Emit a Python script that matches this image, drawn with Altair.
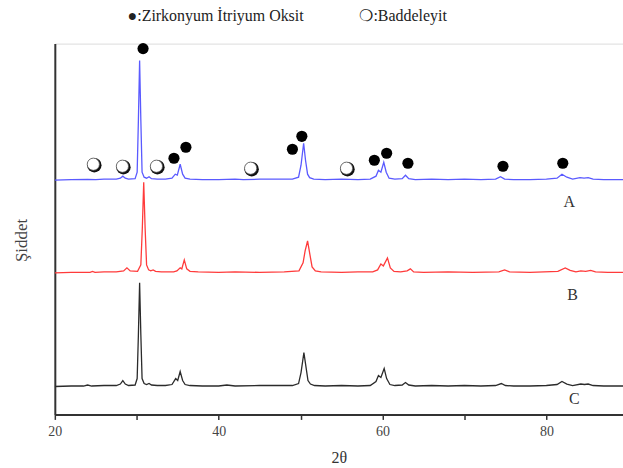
import altair as alt
import pandas as pd

# ---- pattern A (blue): 2theta and intensity above its own baseline ----
a_x = [20, 22, 24, 25, 26, 27.5, 28.0, 28.3, 28.6, 29.0, 29.8, 30.05, 30.2, 30.35, 30.5, 30.65, 30.9,
       31.2, 31.5, 31.8, 32.5, 33.5, 34.3, 34.7, 34.95, 35.3, 35.6, 35.9, 36.5, 38, 40, 42, 43, 45, 47,
       49, 49.75, 50.05, 50.37, 50.6, 50.85, 51.1, 51.6, 53, 55, 57, 58.5, 59.2, 59.5, 59.8, 60.15, 60.45,
       60.8, 61.5, 62.4, 62.8, 63.2, 64, 66, 68, 70, 72, 73.8, 74.4, 74.9, 76, 78, 80, 81.3, 81.9, 82.5,
       83.2, 84.1, 84.6, 85.1, 85.7, 87, 89.5]
a_y = [0, 0.5, 0.8, 0.5, 1, 1, 2, 4, 2, 1, 1.5, 8, 60, 120, 60, 8, 3,
       2, 3.5, 1.5, 1, 1, 2, 6, 5, 16, 6, 2, 1, 0.5, 0.5, 1, 0.5, 1, 1,
       1, 3, 15, 37, 20, 6, 2.5, 1, 0.5, 1, 0.5, 1, 4, 10, 8, 18, 8,
       2, 1, 1.5, 5, 1.5, 0.5, 1, 0.5, 1, 0.5, 1, 3.5, 1, 0.5, 0.5, 1, 2, 6, 3,
       1, 2.5, 2, 2.5, 1, 0.5, 0.5]

# ---- pattern B (red) ----
b_x = [20, 22, 24.3, 24.6, 24.9, 26, 27.5, 28.4, 28.8, 29.2, 30.1, 30.5, 30.68, 30.85, 31.02, 31.2, 31.45,
       31.7, 32.0, 32.3, 33, 34.5, 34.9, 35.3, 35.5, 35.8, 36.1, 36.5, 37.5, 40, 42, 45, 48, 49.8,
       50.3, 50.55, 50.85, 51.1, 51.4, 51.8, 52.5, 55, 57, 58.8, 59.4, 59.8, 60.1, 60.6, 60.95, 61.4,
       62.2, 63.0, 63.4, 63.8, 65, 68, 71, 74.2, 74.9, 75.5, 78, 81.4, 82.3, 82.9, 83.6, 84.2, 84.8,
       85.4, 86.0, 87.5, 89.5]
b_y = [0, 0.5, 0.5, 1.5, 0.5, 1, 1, 2, 5, 2, 1.5, 8, 45, 91, 45, 8, 3,
       2, 3, 1.5, 1, 1, 2, 5, 4, 13, 4, 1.5, 1, 0.5, 1, 0.5, 1, 2,
       10, 22, 32, 20, 6, 2, 1, 0.5, 1, 1, 3, 9, 7, 15, 5, 1.5,
       1, 2, 4, 1, 0.5, 1, 0.5, 1, 3, 1, 0.5, 1.5, 5, 2.5, 1, 2, 1.5,
       2.5, 1, 0.5, 0.5]

# ---- pattern C (black) ----
c_x = [20, 22, 23.5, 24, 24.5, 26, 27.5, 28.0, 28.3, 28.6, 29.0, 29.8, 30.05, 30.2, 30.35, 30.5, 30.65,
       30.9, 31.2, 31.5, 31.8, 32.5, 33.5, 34.3, 34.75, 35.0, 35.3, 35.6, 35.9, 36.5, 38, 40, 41, 42,
       45, 47, 49, 49.75, 50.05, 50.4, 50.65, 50.9, 51.2, 51.7, 53, 55, 57, 58.5, 59.2, 59.5, 59.8,
       60.2, 60.5, 60.9, 61.5, 62.4, 62.8, 63.2, 64, 66, 68, 70, 72, 73.8, 74.5, 75.0, 76, 78, 80,
       81.3, 81.9, 82.5, 83.2, 84.2, 84.65, 85.1, 85.7, 87, 89.5]
c_y = [0, 0.5, 0.5, 1.5, 0.5, 1, 1, 2.5, 6, 2.5, 1, 1.5, 8, 52, 104, 52, 8,
       3, 2, 3, 1.5, 1, 1, 2, 8, 6, 15, 6, 2, 1, 0.5, 0.5, 1.5, 0.5,
       1, 1, 1, 3, 14, 34, 20, 6, 2.5, 1, 0.5, 1, 0.5, 1, 5, 11, 9, 18, 8,
       2, 1, 1.5, 4, 1.5, 0.5, 1, 0.5, 1, 0.5, 1, 3, 1, 0.5, 0.5, 1,
       2, 5, 2.5, 1, 2.5, 2, 2.5, 1, 0.5, 0.5]

series_names = ["A", "B", "C"]
baselines = [235, 142, 28]
colors = ["#5a5aff", "#ff3b3b", "#2b2b2b"]

# ---- phase markers (2theta, intensity level) ----
zr_x = [30.77, 34.54, 36.0, 49.0, 50.15, 59.0, 60.5, 63.1, 74.7, 82.0]
zr_y = [367, 257, 268, 266, 279, 255, 262, 252, 249, 252]
bd_x = [24.7, 28.25, 32.4, 43.9, 55.6]
bd_y = [251, 249, 249, 247, 247]

# ---- series labels ----
lab_text = ["A", "B", "C"]
lab_x = [82.8, 83.2, 83.4]
lab_y = [213, 120, 15]

rows = []
for name, xs, ys, base in zip(series_names, [a_x, b_x, c_x], [a_y, b_y, c_y], baselines):
    for i, (x, y) in enumerate(zip(xs, ys)):
        rows.append({"s": name, "t": x, "i": y + base, "o": i})
df = pd.DataFrame(rows)

X_DOMAIN = [20, 89.35]
Y_DOMAIN = [0, 372]

xscale = alt.Scale(domain=X_DOMAIN, nice=False, zero=False)
yscale = alt.Scale(domain=Y_DOMAIN, nice=False, zero=False)

lines = alt.Chart(df).mark_line(strokeWidth=1.3, clip=True).encode(
    x=alt.X("t:Q", scale=xscale, title="2θ",
            axis=alt.Axis(values=[20, 30, 40, 50, 60, 70, 80],
                          labelExpr="datum.value % 20 == 0 ? datum.label : ''",
                          labelFlush=False, labelOverlap=False,
                          grid=False, tickSize=5, tickColor="#333", tickWidth=1.5,
                          domainColor="#333", domainWidth=2,
                          labelFont="Liberation Serif", labelFontSize=14, labelColor="#444",
                          labelPadding=5, titleFont="Liberation Serif", titleFontSize=16,
                          titleFontWeight="normal", titleColor="#333", titlePadding=11)),
    y=alt.Y("i:Q", scale=yscale, title="Şiddet",
            axis=alt.Axis(labels=False, ticks=False, grid=False, domainColor="#333",
                          domainWidth=2, titleFont="Liberation Sans Narrow", titleFontSize=17,
                          titleFontWeight="normal", titleColor="#444",
                          titleX=-24, titleY=197, titleAngle=270, titleAlign="center",
                          titleBaseline="bottom")),
    color=alt.Color("s:N", scale=alt.Scale(domain=series_names, range=colors), legend=None),
    detail="s:N",
    order="o:Q",
)

zr_df = pd.DataFrame({"t": zr_x, "i": zr_y})
bd_df = pd.DataFrame({"t": bd_x, "i": bd_y})
lab_df = pd.DataFrame({"t": lab_x, "i": lab_y, "txt": lab_text})

zr = alt.Chart(zr_df).mark_circle(size=125, color="black", opacity=1).encode(
    x=alt.X("t:Q", scale=xscale), y=alt.Y("i:Q", scale=yscale))
bd_shadow = alt.Chart(bd_df).mark_circle(size=210, color="#111", opacity=1, xOffset=1, yOffset=1).encode(
    x=alt.X("t:Q", scale=xscale), y=alt.Y("i:Q", scale=yscale))
bd = alt.Chart(bd_df).mark_point(shape="circle", size=150, filled=True, fill="white",
                                 stroke="#555", strokeWidth=0.8, opacity=1).encode(
    x=alt.X("t:Q", scale=xscale), y=alt.Y("i:Q", scale=yscale))
labels = alt.Chart(lab_df).mark_text(font="Liberation Serif", fontSize=16, color="#333").encode(
    x=alt.X("t:Q", scale=xscale), y=alt.Y("i:Q", scale=yscale), text="txt:N")

nb = "\u00a0"
title_text = "●:Zirkonyum İtriyum Oksit" + nb * 14 + "❍:Baddeleyit"

chart = alt.layer(lines, bd_shadow, bd, zr, labels).properties(
    width=570, height=372,
    title=alt.TitleParams(text=title_text, anchor="start", frame="group", dx=73, offset=19,
                          font="Liberation Serif", fontSize=16, fontWeight="normal", color="#222"),
    autosize=alt.AutoSizeParams(type="none"),
    padding={"left": 55, "top": 43, "right": 0, "bottom": 53},
).configure_view(stroke="#555", strokeWidth=2).configure(background="white")

chart.save("out.html", embed_options={"renderer": "svg", "actions": False})
